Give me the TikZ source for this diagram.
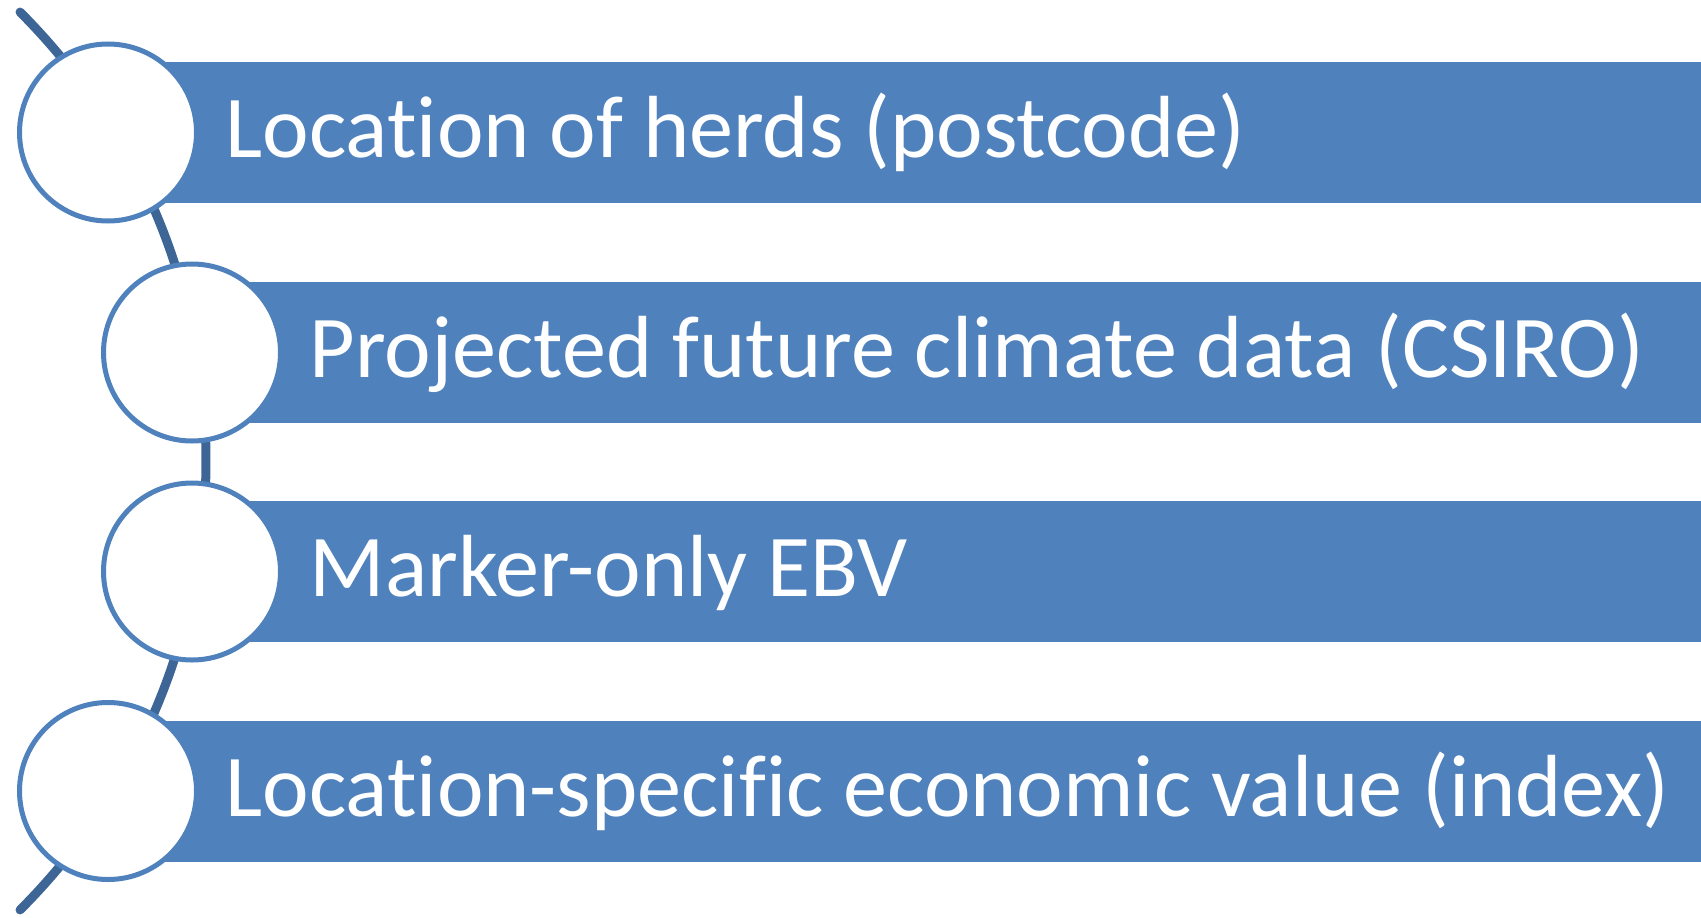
\documentclass[tikz,border=0pt]{standalone}
\usepackage{fontspec}
\setmainfont{Carlito}[Ligatures=NoCommon]
\usepackage{xcolor}
\definecolor{barblue}{HTML}{4F81BD}
\definecolor{arcblue}{HTML}{3D6696}

\begin{document}
\begin{tikzpicture}[
    ring/.style={circle, draw=barblue, fill=white, line width=0.05cm, minimum size=1.77cm, inner sep=0pt},
    bar/.style={fill=barblue},
    txt/.style={text=white, inner sep=0pt, anchor=base west, font=\fontsize{25.1pt}{30pt}\selectfont}
]
    \useasboundingbox (0,0) rectangle (17.01,9.17);

    % Background arc
    \coordinate (O) at (-4.289,4.56);
    \draw[arcblue, line width=0.09cm, line cap=round] ([shift={(-45:6.349)}]O) arc[start angle=-45, end angle=45, radius=6.349];

    % Bars
    \fill[bar] (1.08,7.14) rectangle (17.01,8.55);
    \fill[bar] (1.92,4.94) rectangle (17.01,6.35);
    \fill[bar] (1.92,2.75) rectangle (17.01,4.16);
    \fill[bar] (1.08,0.555) rectangle (17.01,1.965);

    % Circles
    \node[ring] (c1) at (1.08,7.845) {};
    \node[ring] (c2) at (1.92,5.645) {};
    \node[ring] (c3) at (1.92,3.455) {};
    \node[ring] (c4) at (1.08,1.26) {};

    % Labels
    \node[txt] (t1) at ([shift={(1.17,-0.25)}]c1.center) {Location of herds (postcode)};
    \node[txt] (t2) at ([shift={(1.17,-0.25)}]c2.center) {Projected future climate data (CSIRO)};
    \node[txt] (t3) at ([shift={(1.17,-0.25)}]c3.center) {Marker-only EBV};
    \node[txt] (t4) at ([shift={(1.17,-0.25)}]c4.center) {Location-specific economic value (index)};
\end{tikzpicture}
\end{document}
